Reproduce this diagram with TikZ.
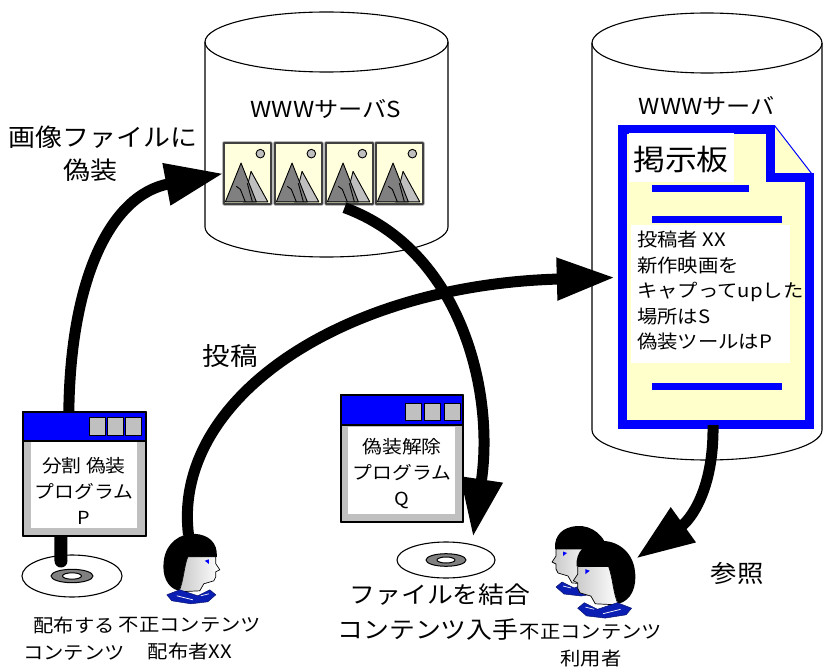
\documentclass[tikz,border=0pt]{standalone}
\usepackage{fontspec}
\setmainfont{Noto Sans CJK JP}[FakeStretch=1.1]
\usetikzlibrary{arrows.meta,calc}

\definecolor{photobg}{HTML}{FFFFDD}
\definecolor{docyellow}{HTML}{FFFFCC}
\definecolor{wingray}{HTML}{C0C0C0}
\definecolor{collarblue}{HTML}{0A1EB4}

\newcommand\tsize[2]{\fontsize{#1}{#2}\selectfont}

\tikzset{
  bigarrow/.style={line width=11pt, -{Triangle[length=58pt,width=40pt]}},
  photo/.style={rectangle, inner sep=0, minimum width=47pt, minimum height=61pt,
    fill=photobg, draw=black!75, line width=1.3pt,
    preaction={draw=gray!55, line width=3.6pt}},
  winframe/.style={rectangle, inner sep=0, fill=wingray, draw=black, line width=1.2pt},
  winbutton/.style={fill=wingray, draw=black, line width=1pt},
  spot/.style={rectangle, inner sep=0},
  lab/.style={inner sep=0, align=center},
  % small landscape picture, origin at the frame's top-left corner
  photoart/.pic={
    \filldraw[fill=gray!50, draw=black, line width=0.9pt] (37,11.3) circle[radius=4.3];
    \filldraw[fill=gray!50, draw=black, line width=0.9pt] (20,59.5) -- (27.7,29) -- (44.5,59.5) -- cycle;
    \filldraw[fill=gray, draw=black, line width=0.9pt] (2,59.5) -- (17.7,20.7) -- (33,59.5) -- cycle;
    \draw[black, line width=0.9pt] (13,44) -- (17,47) -- (22,59.5);
    \draw[black, line width=0.9pt] (24,41) -- (29,59.5);
  },
  % head in profile, facing +x, origin at top-left
  profilehead/.pic={
    \fill[black] (16,58) .. controls (4,55) and (-1,42) .. (1,28)
      .. controls (3,10) and (18,0) .. (32,1)
      .. controls (46,2) and (55,10) .. (54,24) -- (25,24)
      .. controls (21,34) and (21,48) .. (16,58) -- cycle;
    \shadedraw[left color=black!22, right color=white, draw=black, line width=0.7pt]
      (25,24) -- (53,24) -- (53,31) -- (57,37) -- (53,39) -- (53,44) -- (51,48)
      -- (41,51) -- (37,58) -- (16,59) .. controls (21,48) and (21,34) .. (25,24) -- cycle;
    \fill[blue] (42,28) -- (46,26.5) -- (46,31) -- cycle;
    \filldraw[fill=collarblue, draw=collarblue!60!black, line width=0.5pt]
      (4,62) -- (17,57) -- (35,63) -- (47,57) -- (53,62) -- (45,69) -- (28,71) -- (9,68) -- cycle;
    \draw[white, line width=0.7pt] (14,63) -- (30,67) (38,63) -- (46,61);
  }
}

\begin{document}
\begin{tikzpicture}[x=1pt,y=-1pt,line join=round]
\useasboundingbox (0,0) rectangle (827,668);
\fill[white] (0,0) rectangle (827,668);

% ---- server S ----
\fill[white] (205,42) -- (205,227) arc[start angle=180,end angle=0,x radius=121.5,y radius=30]
  -- (448,42) arc[start angle=0,end angle=-180,x radius=121.5,y radius=30] -- cycle;
\draw[line width=1.1pt] (205,42) -- (205,227) arc[start angle=180,end angle=0,x radius=121.5,y radius=30] -- (448,42);
\draw[line width=1.1pt] (326.5,42) ellipse[x radius=121.5,y radius=30];
\node[lab, font=\tsize{22}{26}] (srvSlabel) at (326,109) {WWWサーバS};

\foreach \i/\x in {1/247.5,2/298.5,3/349.5,4/399.5}{
  \node[photo] (img\i) at (\x,173.5) {};
  \pic at (img\i.north west) {photoart};
}

% ---- server with bulletin board ----
\fill[white] (592,43) -- (592,430) arc[start angle=180,end angle=0,x radius=115,y radius=30]
  -- (822,43) arc[start angle=0,end angle=-180,x radius=115,y radius=30] -- cycle;
\draw[line width=1.1pt] (592,43) -- (592,430) arc[start angle=180,end angle=0,x radius=115,y radius=30] -- (822,43);
\draw[line width=1.1pt] (707,43) ellipse[x radius=115,y radius=30];
\node[lab, font=\tsize{22}{26}] (srvlabel) at (707,106) {WWWサーバ};

\node[spot, minimum width=196pt, minimum height=305pt] (board) at (715,277.5) {};
\fill[docyellow] (617.5,125.5) -- (774.5,125.5) -- (813.5,176) -- (813.5,428.5) -- (617.5,428.5) -- cycle;
\draw[blue, line width=9pt, line join=miter] (770,130) -- (622,130) -- (622,424) -- (809,424) -- (809,178) -- (770,178) -- cycle;
\draw[blue, line width=1pt] (774.5,125.5) -- (813.5,176);
\fill[white] (629,133) rectangle (734,182);
\node[lab, font=\tsize{29}{32}] (boardtitle) at (681,159) {掲示板};
\fill[blue] (652,185) rectangle (749,192);
\fill[blue] (652,216) rectangle (782,223);
\fill[blue] (652,383) rectangle (782,390);
\fill[white] (631,225) rectangle (790,363);
\node[inner sep=0, anchor=north west, align=left, font=\tsize{18.5}{25.5}] (boardtext) at (637,231)
  {投稿者 XX\\新作映画を\\キャプってupした\\場所はS\\偽装ツールはP};

% ---- people and media (anchors for connectors) ----
\node[spot, minimum width=59pt, minimum height=69pt] (xx) at (192.5,567.5) {};
\node[spot, minimum width=88pt, minimum height=89pt] (users) at (593,569.5) {};
\node[spot, minimum width=100pt, minimum height=42pt] (cdP) at (72,576) {};
\node[spot, minimum width=98pt, minimum height=36pt] (cdQ) at (446,560) {};
\node[spot, minimum width=123pt, minimum height=124pt] (progP) at (84.5,474) {};
\node[spot, minimum width=122pt, minimum height=127pt] (progQ) at (402,458.5) {};

% ---- flows ----
\draw[bigarrow] ($(progP.north west)+(46,2)$) .. controls (70,280) and (110,195) .. (img1.west);
\draw[bigarrow] ($(img3.south)+(-5,3)$) .. controls (460,250) and (495,390) .. ($(cdQ.north)+(27,-5)$);
\draw[bigarrow] ($(xx.north)+(-4,2)$) .. controls (172,400) and (340,285) .. ($(board.west)+(-2,0)$);
\draw[bigarrow] ($(board.south)+(-2,-5)$) .. controls (714,490) and (690,520) .. ($(users.east)+(-1,-11)$);

% ---- discs ----
\foreach \c/\rx/\ry/\gx/\gy/\hx/\hy in {cdP/50/21/21/6.7/9.5/3.2, cdQ/49/18/20/6.3/9/3}{
  \filldraw[fill=white, draw=black, line width=1.1pt] (\c.center) ellipse[x radius=\rx,y radius=\ry];
  \filldraw[fill=gray, draw=black, line width=1pt] (\c.center) ellipse[x radius=\gx,y radius=\gy];
  \filldraw[fill=white, draw=black, line width=1pt] (\c.center) ellipse[x radius=\hx,y radius=\hy];
}
\draw[line width=13pt, line cap=round] ($(progP.south west)+(38,-4)$) -- ($(cdP.center)+(-11,-15)$);

% ---- program windows ----
\node[winframe, minimum width=123pt, minimum height=124pt] at (progP) {};
\fill[blue] (23,412) rectangle (146,441);
\draw[line width=1.2pt] (23,412) rectangle (146,536) (23,441) -- (146,441);
\fill[white] (31,442) rectangle (137,528);
\foreach \bx in {89,107,125}{ \draw[winbutton] (\bx,417) rectangle ++(16,18); }
\node[lab, font=\tsize{18}{26}] (progPtext) at (84,491) {分割 偽装\\プログラム\\P};

\node[winframe, minimum width=122pt, minimum height=127pt] at (progQ) {};
\fill[blue] (341,395) rectangle (463,425);
\draw[line width=1.2pt] (341,395) rectangle (463,522) (341,425) -- (463,425);
\fill[white] (348,427) rectangle (455,514);
\foreach \bx in {405,424,444}{ \draw[winbutton] (\bx,403) rectangle ++(16,17); }
\node[lab, font=\tsize{18}{26}] (progQtext) at (402,474) {偽装解除\\プログラム\\Q};

% ---- people ----
\pic at (xx.north west) {profilehead};
\pic[xscale=-1] at (609,525) {profilehead};
\pic[xscale=-1.1, yscale=1.1] at (636,540) {profilehead};

% ---- captions ----
\node[lab, font=\tsize{24.5}{30}] (lblDisg1) at (103,137) {画像ファイルに};
\node[lab, font=\tsize{24.5}{30}] (lblDisg2) at (90,170) {偽装};
\node[lab, font=\tsize{25}{30}] (lblPost) at (230,356) {投稿};
\node[lab, font=\tsize{24}{30}] (lblRef) at (737,573) {参照};
\node[lab, font=\tsize{18.5}{27}] (lblCdP) at (74,638.5) {配布する\\コンテンツ};
\node[lab, font=\tsize{18.5}{27}] (lblXX) at (190,638.5) {不正コンテンツ\\配布者XX};
\node[lab, font=\tsize{23.5}{30}] (lblJoin1) at (440,595) {ファイルを結合};
\node[lab, font=\tsize{23.5}{30}] (lblJoin2) at (428,630) {コンテンツ入手};
\node[lab, font=\tsize{18.5}{27}] (lblUsers) at (591,645.5) {不正コンテンツ\\利用者};
\end{tikzpicture}
\end{document}
